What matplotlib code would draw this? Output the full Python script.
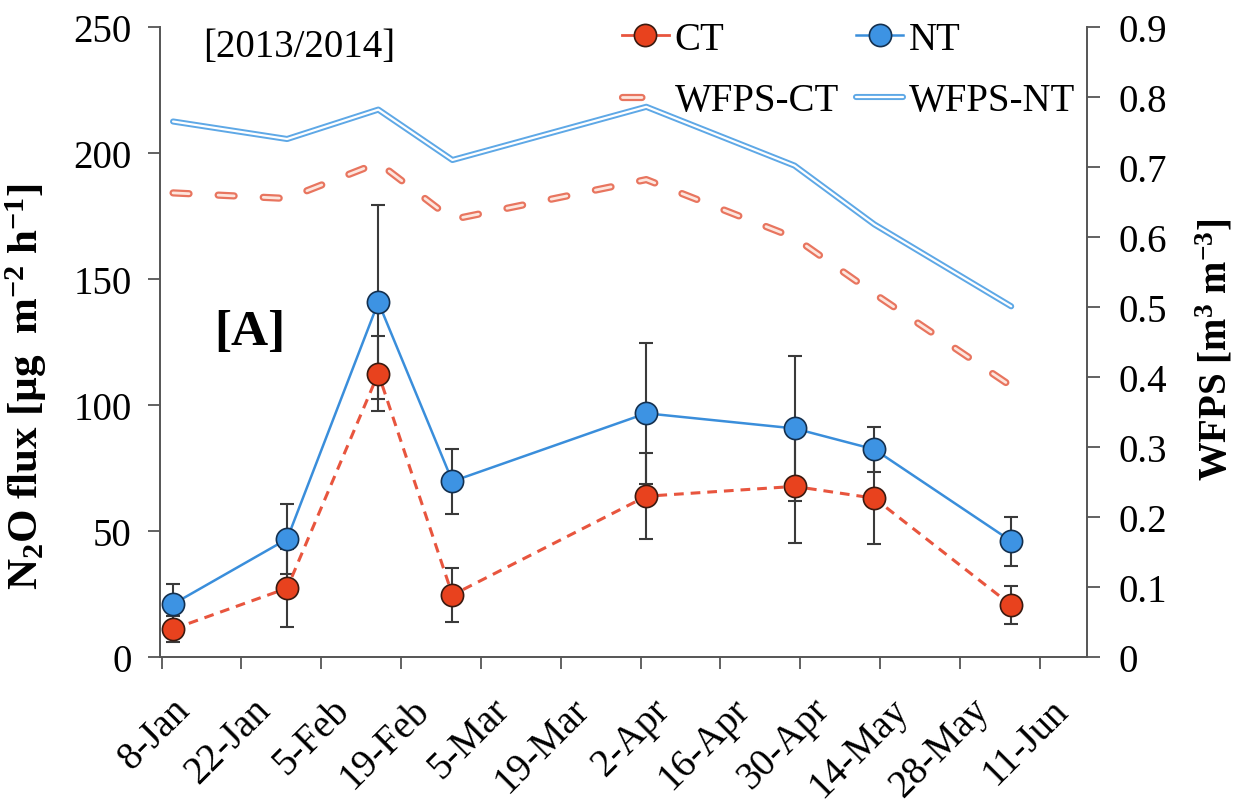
import datetime as dt

import matplotlib
matplotlib.use("Agg")
import matplotlib.pyplot as plt
from matplotlib.lines import Line2D
from matplotlib.transforms import ScaledTranslation, blended_transform_factory

plt.rcParams["font.family"] = ["Liberation Serif", "DejaVu Serif"]
plt.rcParams["mathtext.fontset"] = "custom"
plt.rcParams["mathtext.rm"] = "Liberation Serif"
plt.rcParams["mathtext.bf"] = "Liberation Serif:bold"
plt.rcParams["mathtext.it"] = "Liberation Serif:italic"
plt.rcParams["lines.scale_dashes"] = False

# ---- data -----------------------------------------------------------------
sampling_dates = ["2014-01-10", "2014-01-30", "2014-02-15", "2014-02-28",
                  "2014-04-03", "2014-04-29", "2014-05-13", "2014-06-06"]

# N2O flux (ug m-2 h-1) and standard errors
flux_ct = [11.1, 27.3, 112.5, 24.6, 63.8, 67.7, 63.0, 20.6]
err_ct = [5.0, 15.4, 15.0, 10.7, 17.0, 22.5, 18.2, 7.5]
flux_nt = [21.0, 46.8, 140.8, 69.7, 96.7, 90.7, 82.4, 46.0]
err_nt = [8.0, 14.0, 38.5, 13.0, 28.0, 28.6, 9.0, 9.7]

# water-filled pore space (m3 m-3)
wfps_ct = [0.663, 0.655, 0.706, 0.625, 0.682, 0.599, 0.519, 0.387]
wfps_nt = [0.765, 0.740, 0.782, 0.710, 0.786, 0.702, 0.618, 0.501]

tick_dates = ["2014-01-08", "2014-01-22", "2014-02-05", "2014-02-19",
              "2014-03-05", "2014-03-19", "2014-04-02", "2014-04-16",
              "2014-04-30", "2014-05-14", "2014-05-28", "2014-06-11"]
tick_labels = ["8-Jan", "22-Jan", "5-Feb", "19-Feb", "5-Mar", "19-Mar",
               "2-Apr", "16-Apr", "30-Apr", "14-May", "28-May", "11-Jun"]

flux_ticks = [0, 50, 100, 150, 200, 250]
wfps_ticks = [0, 0.1, 0.2, 0.3, 0.4, 0.5, 0.6, 0.7, 0.8, 0.9]
wfps_tick_labels = ["0", "0.1", "0.2", "0.3", "0.4", "0.5", "0.6", "0.7",
                    "0.8", "0.9"]

# ---- styling ----------------------------------------------------------------
RED = "#E8421E"
RED_LINE = "#E8553E"
BLUE = "#3D93E3"
BLUE_LINE = "#3A8EDB"
WFPS_CT_EDGE = "#E8755F"
WFPS_CT_FILL = "#FDE6DE"
WFPS_NT_EDGE = "#5EA8E6"
AXIS_GREY = "#555555"
ERR_GREY = "#3A3A3A"
FS = 28

def to_date(s):
    return dt.datetime.strptime(s, "%Y-%m-%d")

x = [to_date(d) for d in sampling_dates]
xt = [to_date(d) for d in tick_dates]

fig = plt.figure(figsize=(12.48, 8.03), dpi=100)
W, H = 1248, 803
ax = fig.add_axes([160 / W, 145 / H, (1087 - 160) / W, (658 - 28) / H])
ax2 = ax.twinx()

# ---- WFPS (right axis): double-stroke lines -------------------------------
ct_dash = (0, (11.5, 21.0))
ax2.plot(x, wfps_ct, color=WFPS_CT_EDGE, lw=5.2, linestyle=ct_dash,
         dash_capstyle="round", zorder=2)
ax2.plot(x, wfps_ct, color=WFPS_CT_FILL, lw=2.0, linestyle=ct_dash,
         dash_capstyle="round", zorder=3)
ax2.plot(x, wfps_nt, color=WFPS_NT_EDGE, lw=4.4, solid_capstyle="round",
         solid_joinstyle="round", zorder=2)
ax2.plot(x, wfps_nt, color="white", lw=1.6, solid_capstyle="round",
         solid_joinstyle="round", zorder=3)

# ---- N2O flux (left axis) -------------------------------------------------
err_kw = dict(fmt="none", ecolor=ERR_GREY, elinewidth=1.5, capsize=5,
              capthick=1.5, zorder=2)
ax.errorbar(x, flux_ct, yerr=err_ct, **err_kw)
ax.errorbar(x, flux_nt, yerr=err_nt, **err_kw)

ax.plot(x, flux_ct, color=RED_LINE, lw=2.2, linestyle=(0, (7, 5)), zorder=3)
ax.plot(x, flux_nt, color=BLUE_LINE, lw=1.8, zorder=3.5)
ax.plot(x, flux_ct, linestyle="none", marker="o", ms=16, mfc=RED,
        mec="#3a1a10", mew=1.2, zorder=4)
ax.plot(x, flux_nt, linestyle="none", marker="o", ms=16, mfc=BLUE,
        mec="#14304f", mew=1.2, zorder=4.5)

# ---- axes ---------------------------------------------------------------
x0 = xt[0] - dt.timedelta(hours=7)
x1 = xt[0] + dt.timedelta(days=162.3)
ax.set_xlim(x0, x1)
ax.set_ylim(0, 250)
ax2.set_ylim(0, 0.9)

# date ticks with slanted labels placed just below-right of each tick
ax.set_xticks(xt)
ax.set_xticklabels([])
xlab_trans = (blended_transform_factory(ax.transData, ax.transAxes)
              + ScaledTranslation(10 / 100, -34 / 100, fig.dpi_scale_trans))
for d, lbl in zip(xt, tick_labels):
    ax.text(d, 0, lbl, transform=xlab_trans, rotation=45, ha="right",
            va="top", rotation_mode="anchor", fontsize=FS, clip_on=False)

ax.set_yticks(flux_ticks)
ax.set_yticklabels([str(v) for v in flux_ticks], fontsize=FS)
ax2.set_yticks(wfps_ticks)
ax2.set_yticklabels(wfps_tick_labels, fontsize=FS)

for a in (ax, ax2):
    a.spines["top"].set_visible(False)
    for s in ("left", "right", "bottom"):
        a.spines[s].set_color(AXIS_GREY)
        a.spines[s].set_linewidth(1.4)
ax.spines["right"].set_visible(False)
ax2.spines["left"].set_visible(False)
ax2.spines["bottom"].set_visible(False)

ax.tick_params(axis="x", direction="out", length=8.5, width=1.3,
               color=AXIS_GREY, pad=4)
ax.tick_params(axis="y", direction="out", length=8.5, width=1.3,
               color=AXIS_GREY, pad=12)
ax2.tick_params(axis="y", direction="out", length=9, width=1.3,
                color=AXIS_GREY, pad=14)

ax.set_ylabel(r"N$_\mathbf{2}$O flux [µg  m$^{\mathbf{-2}}$ h$^{\mathbf{-1}}$]",
              fontsize=31, fontweight="bold")
ax.yaxis.set_label_coords(-0.120, 0.43)
ax2.set_ylabel(r"WFPS [m$^\mathbf{3}$ m$^{\mathbf{-3}}$]", fontsize=FS,
               fontweight="bold", rotation=90)
ax2.yaxis.set_label_coords(1.117, 0.49)

# ---- annotations ------------------------------------------------------------
fig.text(203 / W, 1 - 48 / H, "[2013/2014]", fontsize=FS, ha="left",
         va="center")
fig.text(214 / W, 1 - 333 / H, "[A]", fontsize=37, fontweight="bold",
         ha="left", va="center")

# ---- legend -------------------------------------------------------------------
leg_dash = (0, (14.0, 40.0))
h_ct = Line2D([], [], color=RED_LINE, lw=2.0, marker="o", ms=16, mfc=RED,
              mec="#3a1a10", mew=1.2)
h_nt = Line2D([], [], color=BLUE_LINE, lw=1.8, marker="o", ms=16, mfc=BLUE,
              mec="#14304f", mew=1.2)
h_wct = (Line2D([], [], color=WFPS_CT_EDGE, lw=5.2, linestyle=leg_dash,
                dash_capstyle="round"),
         Line2D([], [], color=WFPS_CT_FILL, lw=2.0, linestyle=leg_dash,
                dash_capstyle="round"))
h_wnt = (Line2D([], [], color=WFPS_NT_EDGE, lw=4.4, solid_capstyle="round"),
         Line2D([], [], color="white", lw=1.6, solid_capstyle="round"))

leg = ax2.legend([h_ct, h_wct, h_nt, h_wnt],
                 ["CT", "WFPS-CT", "NT", "WFPS-NT"],
                 ncol=2, loc="upper left",
                 bbox_to_anchor=(622 / W, 1 - 22 / H),
                 bbox_transform=fig.transFigure,
                 frameon=False, fontsize=FS, borderpad=0, borderaxespad=0,
                 handlelength=1.2, handletextpad=0.15, columnspacing=0.45,
                 labelspacing=0.62, numpoints=1)

fig.savefig("out.png", dpi=100)
